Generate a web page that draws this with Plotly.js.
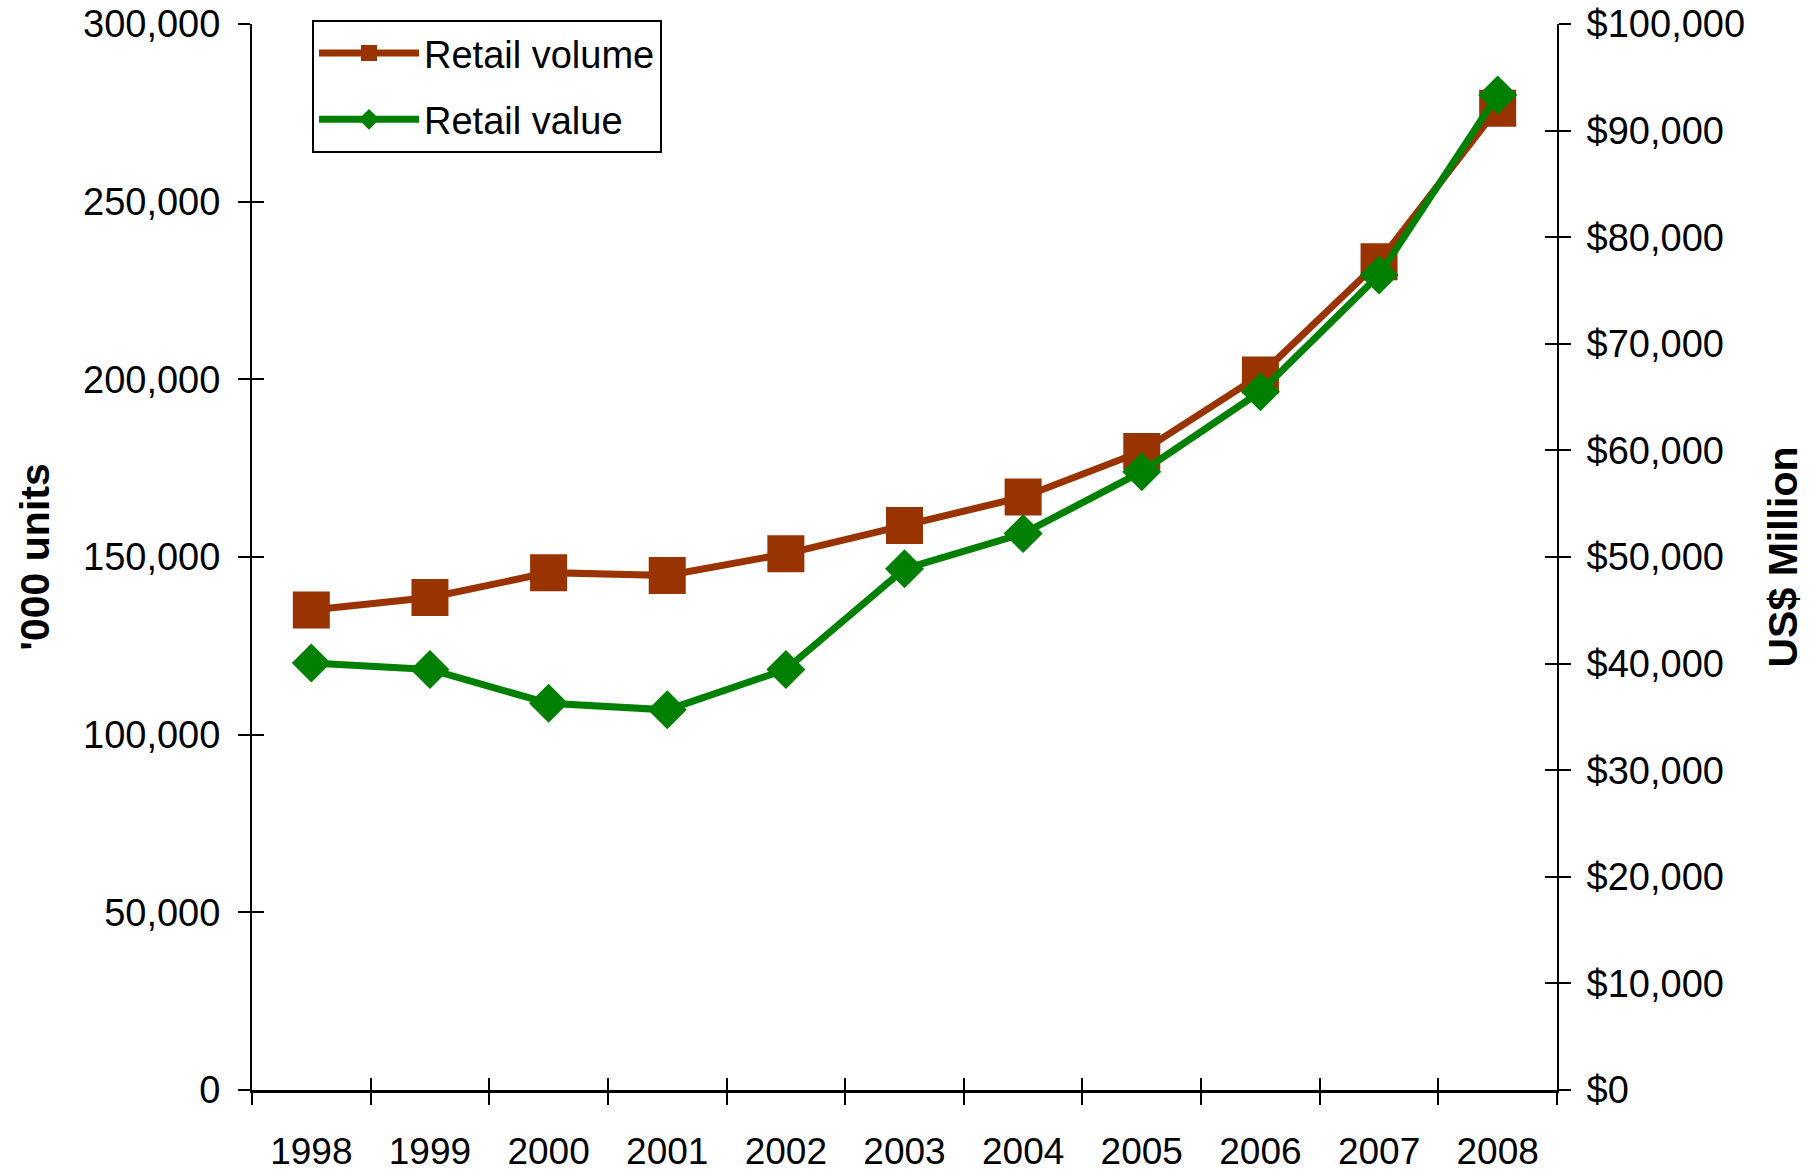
<!DOCTYPE html>
<html>
<head>
<meta charset="utf-8">
<script src="https://cdn.plot.ly/plotly-3.0.1.min.js"></script>
<style>html,body{margin:0;padding:0;background:#fff;}#chart{width:1811px;height:1171px;}</style>
</head>
<body>
<div id="chart"></div>
<script>
const years = ['1998','1999','2000','2001','2002','2003','2004','2005','2006','2007','2008'];
const retailVolume = [135100, 138600, 145600, 144800, 150900, 158900, 166900, 179700, 201200, 233100, 276300];
const retailValue = [40060, 39450, 36270, 35660, 39450, 48890, 52200, 58000, 65500, 76450, 93340];
const seriesNames = ['Retail volume', 'Retail value'];
const leftTitle = "'000 units";
const rightTitle = 'US$ Million';

const FONT = 'Liberation Sans, Arial, sans-serif';
const n = years.length;

const traces = [
  {
    x: years, y: retailVolume, name: seriesNames[0], type: 'scatter', mode: 'lines+markers',
    xaxis: 'x', yaxis: 'y', legendgroup: 'g1',
    line: {color: '#993300', width: 7},
    marker: {symbol: 'square', size: 37, color: '#993300', line: {width: 0}}
  },
  {
    x: years, y: retailValue, name: seriesNames[1], type: 'scatter', mode: 'lines+markers',
    xaxis: 'x', yaxis: 'y2', legendgroup: 'g2',
    line: {color: '#008000', width: 7},
    marker: {symbol: 'diamond', size: 30, color: '#008000', line: {width: 0}}
  },
  // empty helper traces so the inner-tick overlay axes get drawn
  {x: [], y: [], xaxis: 'x2', yaxis: 'y3', showlegend: false, hoverinfo: 'skip', mode: 'lines', type: 'scatter'},
  {x: [], y: [], xaxis: 'x', yaxis: 'y4', showlegend: false, hoverinfo: 'skip', mode: 'lines', type: 'scatter'}
];

const layout = {
  width: 1811, height: 1171,
  margin: {l: 252, r: 254, t: 24, b: 81},
  paper_bgcolor: '#ffffff', plot_bgcolor: 'rgba(0,0,0,0)',
  font: {family: FONT, size: 38, color: '#000'},
  showlegend: true,
  legend: {
    x: 0.046, y: 1.004, xanchor: 'left', yanchor: 'top',
    bgcolor: '#ffffff', bordercolor: '#000', borderwidth: 2,
    font: {family: FONT, size: 38, color: '#000'},
    itemwidth: 100, traceorder: 'grouped', tracegroupgap: 14
  },
  xaxis: {
    type: 'category', categoryarray: years, range: [-0.5, n - 0.5],
    tickson: 'boundaries', ticks: 'outside', ticklen: 12, tickwidth: 2, tickcolor: '#000',
    showline: true, linewidth: 3, linecolor: '#000', showgrid: false, zeroline: false,
    tickfont: {family: FONT, size: 37, color: '#000'}, ticklabelstandoff: 27
  },
  xaxis2: {
    overlaying: 'x', anchor: 'y', type: 'linear', range: [-0.5, n - 0.5],
    tick0: -0.5, dtick: 1, ticks: 'inside', ticklen: 12, tickwidth: 2, tickcolor: '#000',
    showticklabels: false, showline: false, showgrid: false, zeroline: false
  },
  yaxis: {
    range: [0, 300000], dtick: 50000, tickformat: ',d',
    ticks: 'outside', ticklen: 12, tickwidth: 2, tickcolor: '#000',
    showline: true, linewidth: 2, linecolor: '#000', showgrid: false, zeroline: false,
    tickfont: {family: FONT, size: 38, color: '#000'}, ticklabelstandoff: 10,
    title: {text: leftTitle, font: {family: FONT, size: 41, color: '#000', weight: 'bold'}, standoff: 21}
  },
  yaxis2: {
    overlaying: 'y', side: 'right', anchor: 'x',
    range: [0, 100000], dtick: 10000, tickformat: ',d', tickprefix: '$',
    ticks: 'outside', ticklen: 12, tickwidth: 2, tickcolor: '#000',
    showline: true, linewidth: 2, linecolor: '#000', showgrid: false, zeroline: false,
    tickfont: {family: FONT, size: 38, color: '#000'}, ticklabelstandoff: 8,
    title: {text: rightTitle, font: {family: FONT, size: 41, color: '#000', weight: 'bold'}, standoff: 24}
  },
  yaxis3: {
    overlaying: 'y', side: 'left', anchor: 'x2', range: [0, 300000], dtick: 50000,
    ticks: 'inside', ticklen: 12, tickwidth: 2, tickcolor: '#000',
    showticklabels: false, showline: false, showgrid: false, zeroline: false
  },
  yaxis4: {
    overlaying: 'y', side: 'right', anchor: 'x', range: [0, 100000], dtick: 10000,
    ticks: 'inside', ticklen: 12, tickwidth: 2, tickcolor: '#000',
    showticklabels: false, showline: false, showgrid: false, zeroline: false
  }
};

Plotly.newPlot('chart', traces, layout, {staticPlot: true, displayModeBar: false});
</script>
</body>
</html>
